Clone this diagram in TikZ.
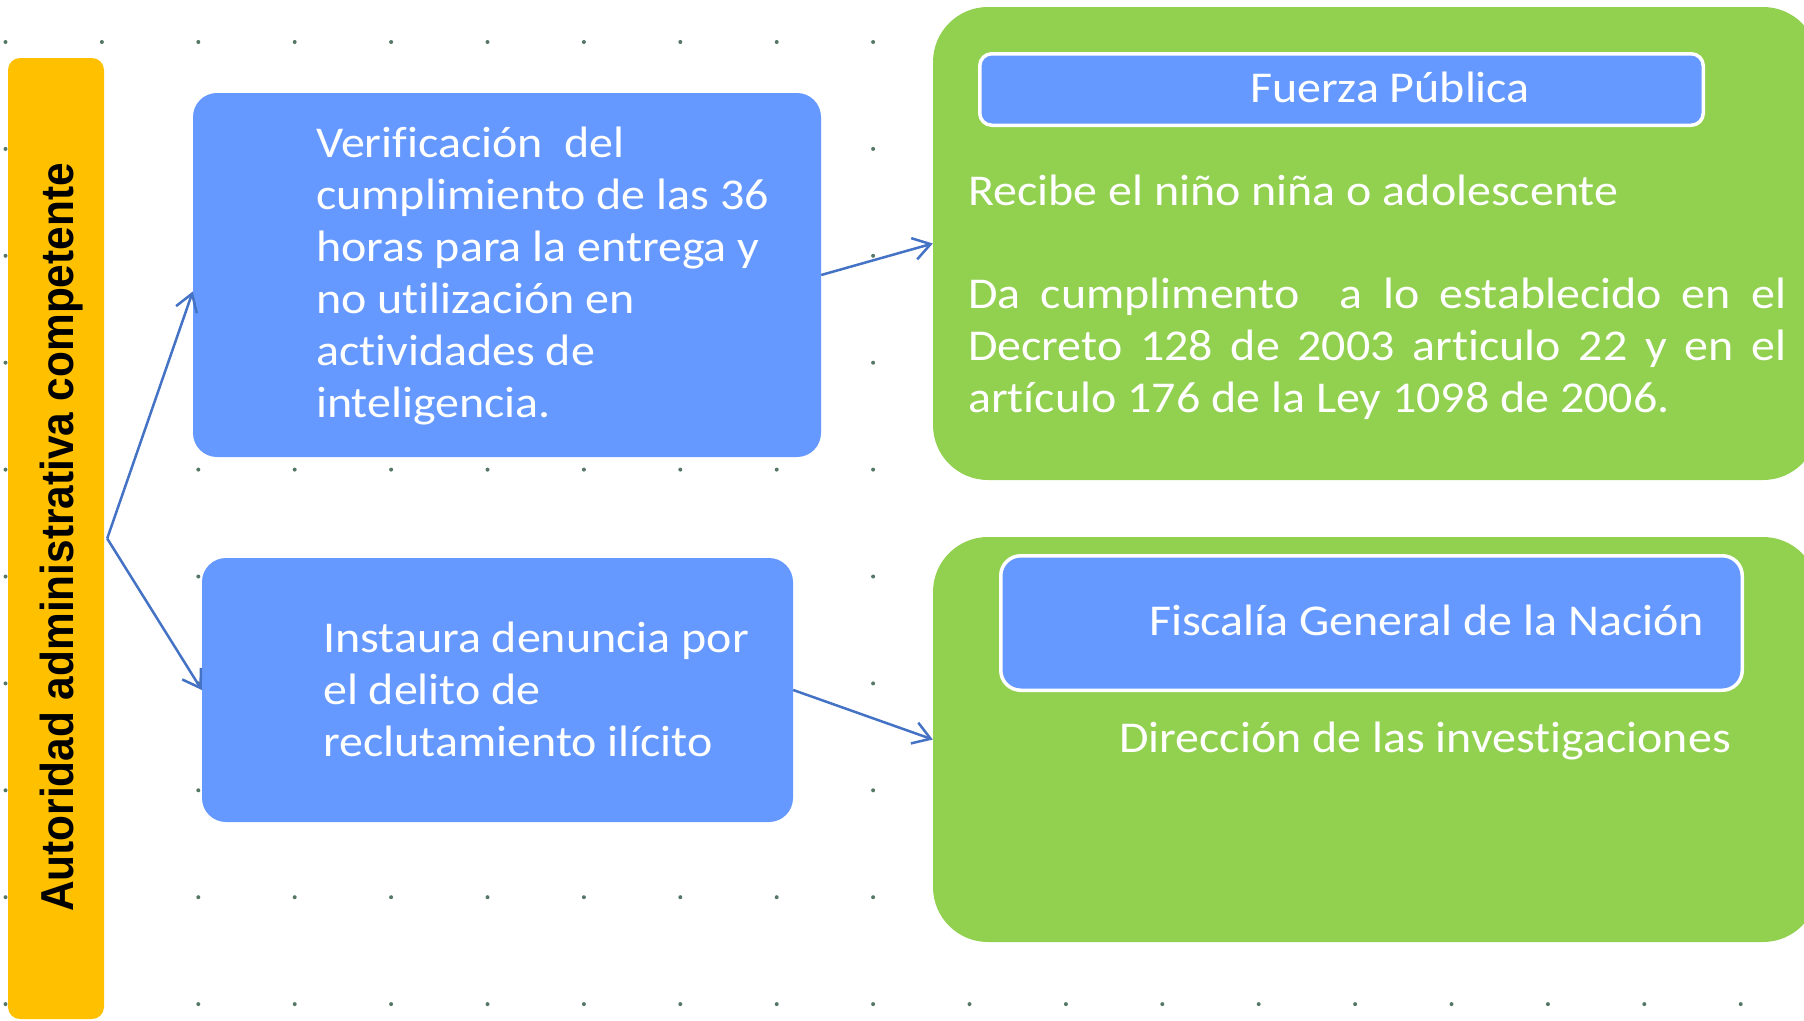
\documentclass[tikz,border=0pt]{standalone}
\usepackage{fontspec}
\setmainfont{Carlito}[FakeStretch=1.09, Ligatures=NoCommon]
\newfontfamily\barfont{Liberation Sans}[FakeStretch=0.917]
\usetikzlibrary{arrows.meta}
\definecolor{boxblue}{HTML}{6699FF}
\definecolor{boxgreen}{HTML}{92D050}
\definecolor{baryellow}{HTML}{FFC000}
\definecolor{arrowblue}{HTML}{4472C4}
\definecolor{dotgreen}{HTML}{557766}
\begin{document}
\begin{tikzpicture}[x=1pt,y=-1pt,
  bluebox/.style={fill=boxblue, draw=none, rounded corners=24pt, inner sep=0pt},
  greenbox/.style={fill=boxgreen, draw=none, rounded corners=55pt, inner sep=0pt},
  titlebox/.style={fill=boxblue, draw=white, line width=3.5pt, inner sep=0pt},
  wtext/.style={text=white, inner sep=0pt, font=\fontsize{44}{52}\selectfont},
  conn/.style={draw=arrowblue, line width=2.5pt, -{Straight Barb[length=17pt,width=22pt]}},
  gdot/.style={fill=dotgreen}
]
\useasboundingbox (0,0) rectangle (1804,1020);
\clip (0,0) rectangle (1804,1020);
\fill[white] (0,0) rectangle (1804,1020);
% dotted grid
\foreach \i in {0,...,18}
  \foreach \j in {0,...,9}
    \fill[gdot] (5.5+96.4*\i, 42+106.9*\j) circle (2pt);
% left bar
\node[fill=baryellow, rounded corners=12pt, inner sep=0pt, minimum width=96pt, minimum height=961pt] (bar) at (56,538.5) {};
\node[rotate=90, anchor=base, inner sep=0pt, font=\barfont\bfseries\fontsize{46.2}{54}\selectfont] (bartext) at (73,537.5) {Autoridad administrativa competente};
% blue boxes
\node[bluebox, minimum width=628pt, minimum height=364pt] (box1) at (507,275) {};
\node[bluebox, minimum width=591pt, minimum height=264pt] (box2) at (497.5,690) {};
% green boxes
\node[greenbox, minimum width=885pt, minimum height=473pt] (green1) at (1375.5,243.5) {};
\node[greenbox, minimum width=885pt, minimum height=405pt] (green2) at (1375.5,739.5) {};
% title boxes
\node[titlebox, rounded corners=12pt, minimum width=723.5pt, minimum height=71.5pt] (fp) at (1341.5,89.5) {};
\node[titlebox, rounded corners=20pt, minimum width=741.5pt, minimum height=134.5pt] (fg) at (1371.5,623) {};
% texts
\node[wtext, anchor=base west] (t1) at (316,157) {\parbox[t]{500pt}{\raggedright Verificación\ \ del\\cumplimiento de las 36\\horas para la entrega y\\no utilización en\\actividades de\\inteligencia.}};
\node[wtext, anchor=base west] (t2) at (323,652) {\parbox[t]{500pt}{\raggedright Instaura denuncia por\\el delito de\\reclutamiento ilícito}};
\node[wtext, anchor=base] (fptext) at (1390,102) {Fuerza Pública};
\node[wtext, anchor=base west] (t3) at (968,205) {Recibe el niño niña o adolescente};
\node[wtext, anchor=base west] (t4) at (968,308) {\parbox[t]{818pt}{\makebox[818pt][s]{Da cumplimento\ \ a lo establecido en el}\\\makebox[818pt][s]{Decreto 128 de 2003 articulo 22 y en el}\\artículo 176 de la Ley 1098 de 2006.}};
\node[wtext, anchor=base west] (fgtext) at (1149,635) {Fiscalía General de la Nación};
\node[wtext, anchor=base west] (t5) at (1119,752) {Dirección de las investigaciones};
% connectors
\coordinate (split) at ([xshift=3pt]bar.east);
\draw[conn] (split) -- (box1.183);
\draw[conn] (split) -- (box2.west);
\draw[conn] (box1.east) -- (green1.west);
\draw[conn] (box2.east) -- (green2.west);
\end{tikzpicture}
\end{document}
